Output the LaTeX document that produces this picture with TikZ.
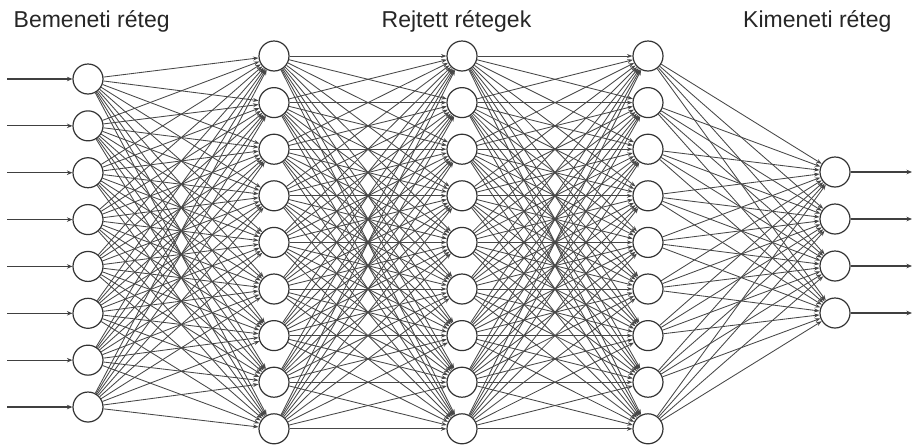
\documentclass[tikz,border=0pt]{standalone}
\usepackage{fontspec}
\setmainfont{Liberation Sans}
\usetikzlibrary{arrows.meta}
\begin{document}
\begin{tikzpicture}[x=1pt,y=-1pt,
  neuron/.style={circle,draw=black!80,line width=1.2pt,fill=white,minimum size=30pt,inner sep=0pt},
  conn/.style={draw=black!72,line width=0.85pt,-{Stealth[length=5.5pt,width=4pt]}},
  io/.style={draw=black!75,line width=1.1pt,-{Stealth[length=5.5pt,width=4.5pt]}},
  lbl/.style={anchor=base west,font=\fontsize{23}{27}\selectfont,text=black!85,inner sep=0pt}]
\fill[white] (0,0) rectangle (913,445);
\useasboundingbox (0,0) rectangle (913,445);
% labels
\node[lbl] (l1) at (13.5,27) {Bemeneti réteg};
\node[lbl] (l2) at (381.5,27) {Rejtett rétegek};
\node[lbl] (l3) at (743,27) {Kimeneti réteg};
% neurons
\foreach \i in {1,...,8} \node[neuron] (i\i) at (88,{79+46.86*(\i-1)}) {};
\foreach \j in {1,...,9} {
  \node[neuron] (a\j) at (274,{56+46.6*(\j-1)}) {};
  \node[neuron] (b\j) at (462,{56+46.6*(\j-1)}) {};
  \node[neuron] (c\j) at (648,{56+46.6*(\j-1)}) {};
}
\foreach \k in {1,...,4} \node[neuron] (o\k) at (835,{172+47*(\k-1)}) {};
% connections
\foreach \s in {1,...,8} \foreach \t in {1,...,9} \draw[conn] (i\s) -- (a\t);
\foreach \s in {1,...,9} \foreach \t in {1,...,9} {
  \draw[conn] (a\s) -- (b\t);
  \draw[conn] (b\s) -- (c\t);
}
\foreach \s in {1,...,9} \foreach \t in {1,...,4} \draw[conn] (c\s) -- (o\t);
% inputs and outputs
\foreach \i in {1,...,8} {
  \coordinate (in\i) at (7,{79+46.86*(\i-1)});
  \draw[io] (in\i) -- (i\i);
}
\foreach \k in {1,...,4} {
  \coordinate (out\k) at (912,{172+47*(\k-1)});
  \draw[io] (o\k) -- (out\k);
}
\end{tikzpicture}
\end{document}
